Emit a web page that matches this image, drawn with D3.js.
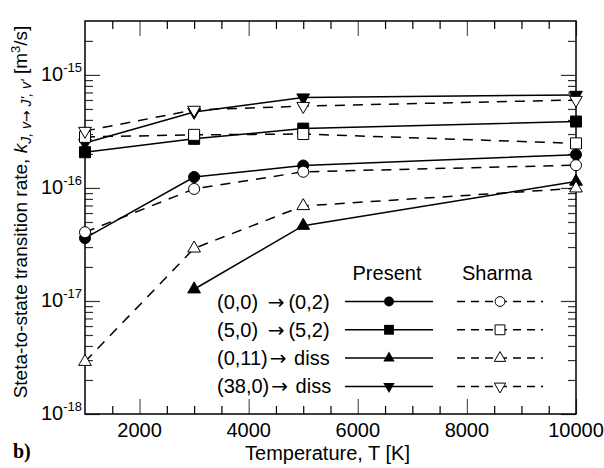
<!DOCTYPE html>
<html>
<head>
<meta charset="utf-8">
<script src="https://cdn.jsdelivr.net/npm/d3@7/dist/d3.min.js"></script>
<style>
  html, body { margin: 0; padding: 0; background: #fff; }
  svg { display: block; }
  text { font-family: Arial, "Liberation Sans", sans-serif; fill: #000; }
  .arrow { font-family: "DejaVu Sans", sans-serif; }
</style>
</head>
<body>
<svg id="chart" width="604" height="468"></svg>
<script>
// Temperatures (K) at which rates were computed
const temperatures = [1000, 3000, 5000, 10000];

// Transition labels for the legend: [initial state, final state]
const transitions = [["(0,0) ", "(0,2)"], ["(5,0) ", "(5,2)"], ["(0,11)", " diss"], ["(38,0)", " diss"]];

// Present results (m^3/s)
const present_0_0 = [3.6e-17, 1.25e-16, 1.58e-16, 1.97e-16];
const present_5_0 = [2.07e-16, 2.72e-16, 3.35e-16, 3.87e-16];
const present_0_11 = [null, 1.27e-17, 4.64e-17, 1.14e-16];
const present_38_0 = [2.5e-16, 4.7e-16, 6.3e-16, 6.65e-16];

// Sharma results (m^3/s)
const sharma_0_0 = [4.06e-17, 9.8e-17, 1.39e-16, 1.59e-16];
const sharma_5_0 = [2.83e-16, 2.95e-16, 3.0e-16, 2.48e-16];
const sharma_0_11 = [2.9e-18, 2.92e-17, 6.93e-17, 9.93e-17];
const sharma_38_0 = [3.19e-16, 4.9e-16, 5.3e-16, 6.0e-16];

// Axis ticks
const xMajorTicks = [2000, 4000, 6000, 8000, 10000];
const xTickLabels = ["2000", "4000", "6000", "8000", "10000"];
const yDecades = [-18, -17, -16, -15];

const svg = d3.select("#chart");
const plotL = 85, plotR = 576, plotT = 21, plotB = 414;

const x = d3.scaleLinear().domain([1000, 10000]).range([plotL, plotR]);
const y = d3.scaleLog().domain([1e-18, 3e-15]).range([plotB, plotT]);

const xMinor = d3.range(1500, 10000, 500).filter(v => v % 2000 !== 0);
const yMajor = yDecades.map(e => Math.pow(10, e));
const yMinor = [];
yDecades.forEach(e => { for (let k = 2; k <= 9; k++) { const v = k * Math.pow(10, e); if (v <= 3e-15) yMinor.push(v); } });

function styleAxis(g, color) {
  g.select(".domain").remove();
  g.selectAll(".tick line").attr("stroke", color).attr("stroke-width", 1.2);
  g.selectAll(".tick text").remove();
}

// inward ticks on all four sides
svg.append("g").attr("transform", `translate(0,${plotB})`)
  .call(d3.axisBottom(x).tickValues(xMajorTicks).tickSize(-15)).call(g => styleAxis(g, "#555"));
svg.append("g").attr("transform", `translate(0,${plotB})`)
  .call(d3.axisBottom(x).tickValues(xMinor).tickSize(-8)).call(g => styleAxis(g, "#000"));
svg.append("g").attr("transform", `translate(0,${plotT})`)
  .call(d3.axisTop(x).tickValues(xMajorTicks).tickSize(-15)).call(g => styleAxis(g, "#555"));
svg.append("g").attr("transform", `translate(0,${plotT})`)
  .call(d3.axisTop(x).tickValues(xMinor).tickSize(-8)).call(g => styleAxis(g, "#000"));
svg.append("g").attr("transform", `translate(${plotL},0)`)
  .call(d3.axisLeft(y).tickValues(yMajor).tickSize(-15)).call(g => styleAxis(g, "#333"));
svg.append("g").attr("transform", `translate(${plotL},0)`)
  .call(d3.axisLeft(y).tickValues(yMinor).tickSize(-8)).call(g => styleAxis(g, "#333"));
svg.append("g").attr("transform", `translate(${plotR},0)`)
  .call(d3.axisRight(y).tickValues(yMajor).tickSize(-15)).call(g => styleAxis(g, "#333"));
svg.append("g").attr("transform", `translate(${plotR},0)`)
  .call(d3.axisRight(y).tickValues(yMinor).tickSize(-8)).call(g => styleAxis(g, "#333"));

// frame
svg.append("rect").attr("x", plotL).attr("y", plotT)
  .attr("width", plotR - plotL).attr("height", plotB - plotT)
  .attr("fill", "none").attr("stroke", "#000").attr("stroke-width", 1.5);

// x tick labels
svg.append("g").selectAll("text").data(xMajorTicks).join("text")
  .attr("x", d => x(d)).attr("y", 437).attr("text-anchor", "middle")
  .attr("font-size", 20).text((d, i) => xTickLabels[i]);

// y tick labels 10^n
const yl = svg.append("g").selectAll("text").data(yDecades).join("text")
  .attr("x", 82).attr("y", d => y(Math.pow(10, d)) + 6).attr("text-anchor", "end")
  .attr("font-size", 20);
yl.append("tspan").text("10");
yl.append("tspan").attr("font-size", 13).attr("dy", -9).text(d => String(d));

// axis titles
svg.append("text").attr("x", (plotL + plotR) / 2 - 3).attr("y", 460)
  .attr("text-anchor", "middle").attr("font-size", 20).text("Temperature, T  [K]");

const yt = svg.append("text").attr("transform", "translate(27,212) rotate(-90)")
  .attr("text-anchor", "middle").attr("font-size", 19);
yt.append("tspan").text("Steta-to-state transition rate, ");
yt.append("tspan").attr("font-style", "italic").text("k");
yt.append("tspan").attr("font-size", 14).attr("dy", 4).attr("font-style", "italic").text("J, v");
yt.append("tspan").attr("class", "arrow").attr("font-size", 14).text("\u2192");
yt.append("tspan").attr("font-size", 14).attr("font-style", "italic").text(" J', v'");
yt.append("tspan").attr("dy", -4).text("  [m");
yt.append("tspan").attr("font-size", 13).attr("dy", -7).text("3");
yt.append("tspan").attr("dy", 7).text("/s]");

svg.append("text").attr("x", 13).attr("y", 458)
  .style("font-family", "'Times New Roman', 'Liberation Serif', serif")
  .attr("font-weight", "bold").attr("font-size", 20).text("b)");

// series
const symbols = [
  { type: d3.symbolCircle, size: 95, rot: 0 },
  { type: d3.symbolSquare, size: 121, rot: 0 },
  { type: d3.symbolTriangle, size: 70, rot: 0 },
  { type: d3.symbolTriangle, size: 70, rot: 180 }
];
const presentSets = [present_0_0, present_5_0, present_0_11, present_38_0];
const sharmaSets = [sharma_0_0, sharma_5_0, sharma_0_11, sharma_38_0];

const line = d3.line().defined(d => d[1] != null).x(d => x(d[0])).y(d => y(d[1]));

function drawSeries(vals, sym, dashed) {
  const pts = temperatures.map((t, i) => [t, vals[i]]);
  svg.append("path").attr("d", line(pts)).attr("fill", "none")
    .attr("stroke", "#000").attr("stroke-width", 1.5)
    .attr("stroke-dasharray", dashed ? "10,8" : null);
  svg.append("g").selectAll("path").data(pts.filter(d => d[1] != null)).join("path")
    .attr("d", d3.symbol().type(sym.type).size(sym.size))
    .attr("transform", d => `translate(${x(d[0])},${y(d[1])}) rotate(${sym.rot})`)
    .attr("fill", dashed ? "#fff" : "#000").attr("stroke", "#000").attr("stroke-width", 1);
}
presentSets.forEach((v, i) => drawSeries(v, symbols[i], false));
sharmaSets.forEach((v, i) => drawSeries(v, symbols[i], true));

// legend
const lg = svg.append("g");
lg.append("text").attr("x", 387).attr("y", 280).attr("text-anchor", "middle").attr("font-size", 20).text("Present");
lg.append("text").attr("x", 497).attr("y", 280).attr("text-anchor", "middle").attr("font-size", 20).text("Sharma");
transitions.forEach((pair, i) => {
  const ry = 301.5 + 28.3 * i;
  const t = lg.append("text").attr("x", 217).attr("y", ry + 7).attr("font-size", 20);
  t.append("tspan").text(pair[0]);
  t.append("tspan").attr("class", "arrow").attr("dx", i < 2 ? 4 : 2).text("\u2192");
  t.append("tspan").attr("dx", i < 2 ? 4 : 2).text(pair[1]);
  lg.append("line").attr("x1", 345).attr("x2", 433).attr("y1", ry).attr("y2", ry)
    .attr("stroke", "#000").attr("stroke-width", 1.5);
  lg.append("path").attr("d", d3.symbol().type(symbols[i].type).size(symbols[i].size * 0.8))
    .attr("transform", `translate(389,${ry}) rotate(${symbols[i].rot})`).attr("fill", "#000");
  lg.append("line").attr("x1", 457).attr("x2", 543).attr("y1", ry).attr("y2", ry)
    .attr("stroke", "#000").attr("stroke-width", 1.5).attr("stroke-dasharray", "8,6");
  lg.append("path").attr("d", d3.symbol().type(symbols[i].type).size(symbols[i].size * 0.8))
    .attr("transform", `translate(500,${ry}) rotate(${symbols[i].rot})`)
    .attr("fill", "#fff").attr("stroke", "#000").attr("stroke-width", 1);
});
</script>
</body>
</html>
